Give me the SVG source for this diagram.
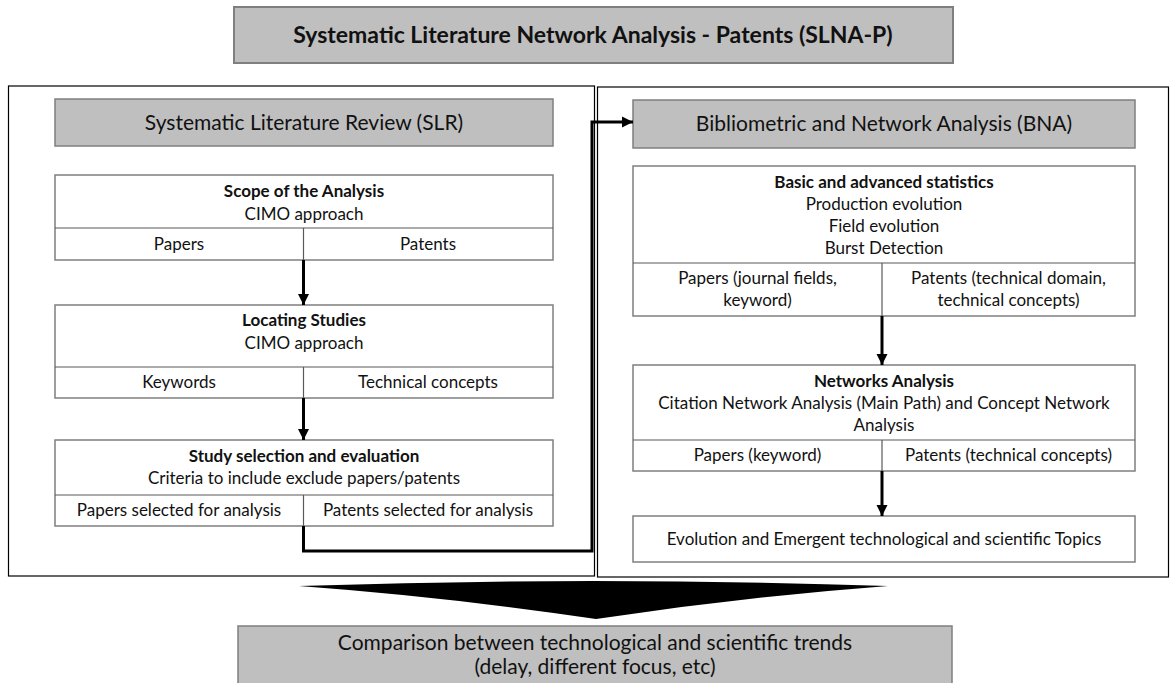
<svg xmlns="http://www.w3.org/2000/svg" width="1176" height="683" viewBox="0 0 1176 683">
  <defs>
    <marker id="arrow" viewBox="0 0 10 10" refX="10" refY="5" markerWidth="3.8" markerHeight="3.8" markerUnits="strokeWidth" orient="auto">
      <path d="M0,0 L10,5 L0,10 Z" fill="#000"/>
    </marker>
    <style>
      text { font-family: Lato, "Open Sans", "Liberation Sans", sans-serif; fill: #111; text-anchor: middle; }
      .t { font-size: 17px; }
      .b { font-size: 17px; font-weight: bold; }
      .h { font-size: 21px; }
      .title { font-size: 23px; font-weight: bold; }
      .gray { fill: #bfbfbf; stroke: #7f7f7f; stroke-width: 1.5; }
      .box { fill: #fff; stroke: #7f7f7f; stroke-width: 1.5; }
      .div { stroke: #595959; stroke-width: 1.2; fill: none; }
      .frame { fill: none; stroke: #000; stroke-width: 1.2; }
      .conn { fill: none; stroke: #000; stroke-width: 3; }
    </style>
  </defs>

  <rect width="1176" height="683" fill="#fff"/>

  <!-- overall title -->
  <g id="title">
    <rect class="gray" x="234" y="7" width="719" height="56" style="stroke-width:2"/>
    <text class="title" x="593" y="43">Systematic Literature Network Analysis - Patents (SLNA-P)</text>
  </g>

  <!-- panel frames -->
  <g id="panels">
    <rect class="frame" x="8.5" y="86" width="586" height="490"/>
    <rect class="frame" x="597.5" y="87" width="571" height="490"/>
  </g>

  <!-- left panel: SLR -->
  <g id="slr-header">
    <rect class="gray" x="55" y="99" width="498" height="47"/>
    <text class="h" x="304" y="130">Systematic Literature Review (SLR)</text>
  </g>

  <g id="scope">
    <rect class="box" x="55" y="175" width="498" height="85"/>
    <line class="div" x1="55" y1="228" x2="553" y2="228"/>
    <line class="div" x1="303.5" y1="228" x2="303.5" y2="260"/>
    <text class="b" x="304" y="197">Scope of the Analysis</text>
    <text class="t" x="304" y="220">CIMO approach</text>
    <text class="t" x="179" y="250">Papers</text>
    <text class="t" x="428" y="250">Patents</text>
  </g>

  <g id="locating">
    <rect class="box" x="55" y="305" width="498" height="93"/>
    <line class="div" x1="55" y1="367" x2="553" y2="367"/>
    <line class="div" x1="303.5" y1="367" x2="303.5" y2="398"/>
    <text class="b" x="304" y="326">Locating Studies</text>
    <text class="t" x="304" y="349">CIMO approach</text>
    <text class="t" x="179" y="388">Keywords</text>
    <text class="t" x="428" y="388">Technical concepts</text>
  </g>

  <g id="selection">
    <rect class="box" x="55" y="440" width="498" height="86"/>
    <line class="div" x1="55" y1="495" x2="553" y2="495"/>
    <line class="div" x1="303.5" y1="495" x2="303.5" y2="526"/>
    <text class="b" x="304" y="462">Study selection and evaluation</text>
    <text class="t" x="304" y="484">Criteria to include exclude papers/patents</text>
    <text class="t" x="179" y="516">Papers selected for analysis</text>
    <text class="t" x="428" y="516">Patents selected for analysis</text>
  </g>

  <!-- right panel: BNA -->
  <g id="bna-header">
    <rect class="gray" x="633" y="100" width="502" height="48"/>
    <text class="h" x="884" y="131">Bibliometric and Network Analysis (BNA)</text>
  </g>

  <g id="statistics">
    <rect class="box" x="633" y="166" width="502" height="150"/>
    <line class="div" x1="633" y1="263" x2="1135" y2="263"/>
    <line class="div" x1="882" y1="263" x2="882" y2="316"/>
    <text class="b" x="884" y="188">Basic and advanced statistics</text>
    <text class="t" x="884" y="210">Production evolution</text>
    <text class="t" x="884" y="232">Field evolution</text>
    <text class="t" x="884" y="254">Burst Detection</text>
    <text class="t" x="757.5" y="284">Papers (journal fields,</text>
    <text class="t" x="757.5" y="306">keyword)</text>
    <text class="t" x="1008.5" y="284">Patents (technical domain,</text>
    <text class="t" x="1008.5" y="306">technical concepts)</text>
  </g>

  <g id="networks">
    <rect class="box" x="633" y="365" width="502" height="106"/>
    <line class="div" x1="633" y1="440" x2="1135" y2="440"/>
    <line class="div" x1="882" y1="440" x2="882" y2="471"/>
    <text class="b" x="884" y="387">Networks Analysis</text>
    <text class="t" x="884" y="409">Citation Network Analysis (Main Path) and Concept Network</text>
    <text class="t" x="884" y="431">Analysis</text>
    <text class="t" x="757.5" y="461">Papers (keyword)</text>
    <text class="t" x="1008.5" y="461">Patents (technical concepts)</text>
  </g>

  <g id="topics">
    <rect class="box" x="633" y="516" width="502" height="46"/>
    <text class="t" x="884" y="545">Evolution and Emergent technological and scientific Topics</text>
  </g>

  <!-- bottom: convergence arrow and comparison -->
  <g id="funnel">
    <path d="M299,586 Q593,576 888,586 Q742,597 596,619 Q448,597 299,586 Z" fill="#000"/>
  </g>

  <g id="comparison">
    <rect class="gray" x="238" y="626" width="714" height="70"/>
    <text class="h" x="595" y="650">Comparison between technological and scientific trends</text>
    <text class="h" x="595" y="674">(delay, different focus, etc)</text>
  </g>

  <!-- connectors -->
  <g id="connectors">
    <line class="conn" x1="303.5" y1="260" x2="303.5" y2="305" marker-end="url(#arrow)"/>
    <line class="conn" x1="303.5" y1="398" x2="303.5" y2="440" marker-end="url(#arrow)"/>
    <polyline class="conn" points="303.5,526 303.5,551 592,551 592,122 633,122" marker-end="url(#arrow)"/>
    <line class="conn" x1="882" y1="316" x2="882" y2="365" marker-end="url(#arrow)"/>
    <line class="conn" x1="882" y1="471" x2="882" y2="516" marker-end="url(#arrow)"/>
  </g>
</svg>
